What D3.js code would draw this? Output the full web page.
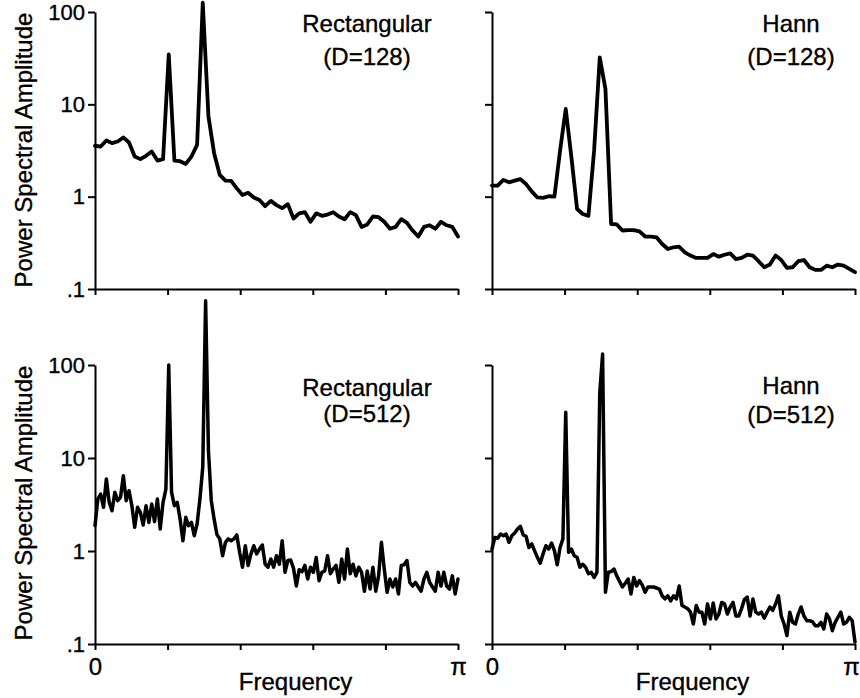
<!DOCTYPE html>
<html>
<head>
<meta charset="utf-8">
<script src="https://cdn.jsdelivr.net/npm/d3@7"></script>
<style>
  body { margin: 0; background: #fff; }
  text { font-family: "Liberation Sans", Arial, Helvetica, sans-serif; fill: #000; stroke: #000; stroke-width: 0.35px; }
</style>
</head>
<body>
<svg id="chart" width="860" height="698"></svg>
<script>
// ---------------- DATA ----------------
const yTickValues = [0.1, 1, 10, 100];
const yTickLabels = [".1", "1", "10", "100"];
const xTickValues = [0, Math.PI / 5, 2 * Math.PI / 5, 3 * Math.PI / 5, 4 * Math.PI / 5, Math.PI];
const xTickLabels = ["0", "", "", "", "", "\u03C0"];
const yAxisTitle = "Power Spectral Amplitude";
const xAxisTitle = "Frequency";
const panelTitles = [["Rectangular", "(D=128)"], ["Hann", "(D=128)"], ["Rectangular", "(D=512)"], ["Hann", "(D=512)"]];

// Rectangular window, D=128 (65 bins from 0 to pi)
const rect128 = [3.56,3.49,4.06,3.80,3.96,4.38,3.86,2.72,2.55,2.77,
  3.08,2.46,2.55,34.7,2.46,2.42,2.26,2.72,3.64,126,
  7.41,2.96,1.72,1.49,1.48,1.23,1.04,1.10,0.98,0.92,
  0.79,0.90,0.81,0.75,0.83,0.58,0.66,0.68,0.535,0.66,
  0.62,0.64,0.68,0.61,0.57,0.68,0.63,0.47,0.50,0.61,
  0.60,0.535,0.45,0.47,0.57,0.52,0.43,0.37,0.47,0.49,
  0.45,0.535,0.49,0.47,0.37];

// Hann window, D=128
const hann128 = [1.32,1.32,1.52,1.43,1.49,1.55,1.37,1.14,0.98,0.97,
  1.01,1.00,3.15,8.9,2.67,0.735,0.65,0.62,3.15,32.3,
  14.7,0.506,0.50,0.43,0.435,0.435,0.42,0.37,0.37,0.363,
  0.307,0.271,0.283,0.287,0.249,0.23,0.217,0.217,0.217,0.239,
  0.224,0.235,0.243,0.211,0.217,0.235,0.23,0.20,0.172,0.184,
  0.23,0.206,0.169,0.172,0.20,0.206,0.172,0.161,0.161,0.179,
  0.172,0.184,0.179,0.165,0.152];

// Rectangular window, D=512 (129 samples from 0 to pi)
const rect512 = [1.87,3.62,4.10,2.95,5.94,3.34,2.71,4.27,3.48,3.78,
  6.46,3.48,4.45,3.07,1.80,2.95,2.60,1.90,3.07,2.03,
  3.20,2.07,3.62,1.72,3.34,4.64,100,4.27,3.07,3.34,
  2.21,1.29,2.30,1.87,2.03,1.46,1.95,3.62,8,490,
  12,3.5,2.2,1.5,1.35,0.89,1.24,1.35,1.29,1.35,
  1.49,0.97,0.67,1.14,0.70,0.93,1.14,0.93,1.05,1.16,
  0.72,0.67,0.82,0.67,0.89,0.72,1.29,0.59,0.79,0.80,
  0.65,0.42,0.63,0.60,0.70,0.50,0.67,0.59,0.85,0.48,
  0.59,0.61,0.89,0.57,0.64,0.70,0.46,0.82,0.50,1.05,
  0.57,0.72,0.54,0.67,0.59,0.37,0.61,0.39,0.67,0.37,
  0.54,1.24,0.64,0.36,0.50,0.41,0.50,0.345,0.70,0.71,
  0.79,0.46,0.42,0.46,0.41,0.37,0.50,0.59,0.46,0.41,
  0.37,0.59,0.42,0.59,0.42,0.39,0.54,0.345,0.50];

// Hann window, D=512
const hann512 = [1.05,1.40,1.37,1.52,1.46,1.52,1.24,1.46,1.56,1.72,
  1.84,1.49,1.44,1.09,1.19,1.01,0.855,0.74,0.93,1.14,
  1.05,1.22,1.01,0.71,1.09,1.35,31,0.97,1.05,0.89,
  0.855,0.67,0.72,0.67,0.57,0.59,0.52,0.59,50,131,
  0.36,0.59,0.60,0.64,0.54,0.47,0.41,0.45,0.50,0.345,
  0.52,0.42,0.48,0.43,0.36,0.41,0.41,0.41,0.40,0.39,
  0.33,0.305,0.33,0.29,0.33,0.305,0.42,0.26,0.25,0.24,
  0.22,0.164,0.26,0.22,0.22,0.164,0.27,0.186,0.276,0.186,
  0.21,0.28,0.27,0.21,0.25,0.28,0.20,0.20,0.24,0.30,
  0.32,0.20,0.305,0.22,0.21,0.22,0.19,0.22,0.25,0.23,
  0.27,0.33,0.20,0.164,0.123,0.22,0.171,0.164,0.21,0.25,
  0.20,0.178,0.178,0.174,0.157,0.157,0.171,0.145,0.21,0.186,
  0.139,0.171,0.194,0.22,0.164,0.171,0.194,0.178,0.105];

const series = [rect128, hann128, rect512, hann512];

// ---------------- LAYOUT ----------------
const layout = [
  { x0: 95,  x1: 458, yTop: 12,  yBot: 289, left: true,  bottom: false, tx: 367, ty: [32, 65],   lw: 3.8, titleY: 150 },
  { x0: 492, x1: 855, yTop: 12,  yBot: 289, left: false, bottom: false, tx: 791, ty: [32, 65],   lw: 3.8 },
  { x0: 95,  x1: 458, yTop: 365, yBot: 644, left: true,  bottom: true,  tx: 367, ty: [396, 422], lw: 3.5, titleY: 503 },
  { x0: 492, x1: 855, yTop: 365, yBot: 644, left: false, bottom: true,  tx: 791, ty: [394, 423], lw: 3.5 }
];

const svg = d3.select("#chart");

layout.forEach((p, k) => {
  const data = series[k];
  const n = data.length;
  const x = d3.scaleLinear().domain([0, Math.PI]).range([p.x0, p.x1]);
  const y = d3.scaleLog().domain([0.1, 100]).range([p.yBot, p.yTop]);

  // y axis
  const ya = d3.axisLeft(y).tickValues(yTickValues).tickSize(7).tickSizeOuter(0).tickPadding(3)
    .tickFormat((d, i) => p.left ? yTickLabels[i] : "");
  const gy = svg.append("g").attr("transform", `translate(${p.x0},0)`).call(ya);
  gy.selectAll("path, line").attr("stroke", "#000").attr("stroke-width", 2);
  gy.selectAll("text").attr("font-size", 22).attr("fill", "#000")
    .style("font-family", "'Liberation Sans', Arial, sans-serif");

  // x axis
  const xa = d3.axisBottom(x).tickValues(xTickValues).tickSize(6).tickSizeOuter(0).tickPadding(8)
    .tickFormat((d, i) => p.bottom ? xTickLabels[i] : "");
  const gx = svg.append("g").attr("transform", `translate(0,${p.yBot})`).call(xa);
  gx.selectAll("path, line").attr("stroke", "#000").attr("stroke-width", 2);
  gx.selectAll("text").attr("font-size", 24).attr("fill", "#000")
    .style("font-family", "'Liberation Sans', Arial, sans-serif");
  // keep the right-hand pi label inside the picture
  if (p.x1 > 800) gx.selectAll(".tick:last-of-type text").attr("dx", -4);

  // curve
  const line = d3.line()
    .x((d, i) => x(i * Math.PI / (n - 1)))
    .y(d => y(d));
  svg.append("path").datum(data)
    .attr("d", line)
    .attr("fill", "none")
    .attr("stroke", "#000")
    .attr("stroke-width", p.lw)
    .attr("stroke-linejoin", "round")
    .attr("stroke-linecap", "round");

  // panel titles
  panelTitles[k].forEach((t, j) => {
    svg.append("text").attr("x", p.tx).attr("y", p.ty[j])
      .attr("text-anchor", "middle").attr("font-size", 24).text(t);
  });

  // axis titles
  if (p.left) {
    svg.append("text")
      .attr("transform", `translate(32,${p.titleY}) rotate(-90)`)
      .attr("text-anchor", "middle").attr("font-size", 24).text(yAxisTitle);
  }
  if (p.bottom) {
    svg.append("text").attr("x", (p.x0 + p.x1) / 2 + 19).attr("y", 690)
      .attr("text-anchor", "middle").attr("font-size", 24).text(xAxisTitle);
  }
});
</script>
</body>
</html>
